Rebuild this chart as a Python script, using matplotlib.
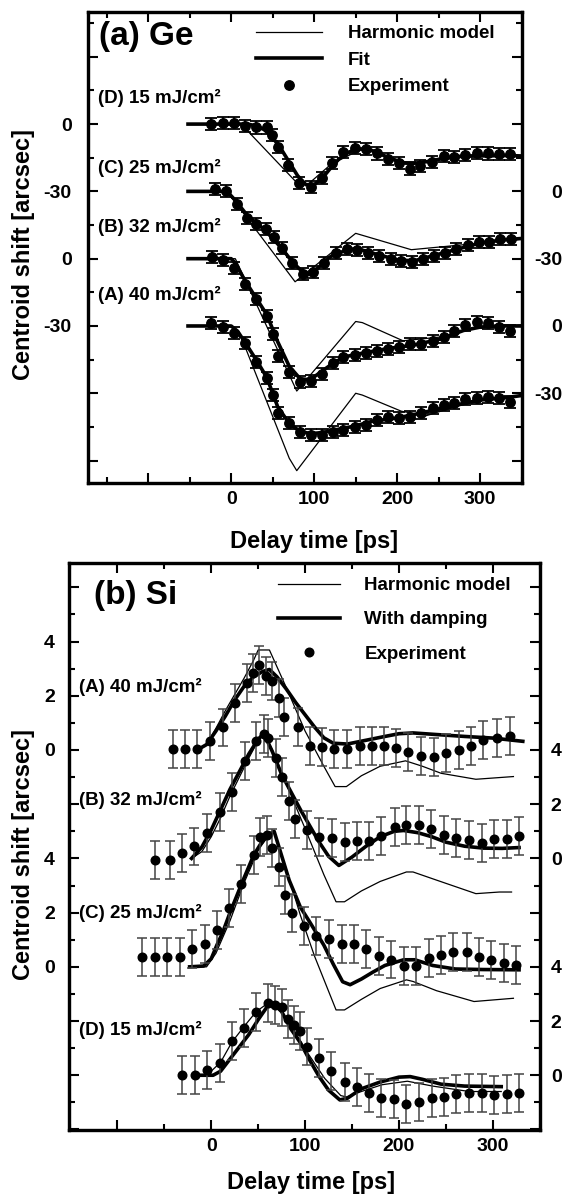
import matplotlib
matplotlib.use('Agg')
import matplotlib.pyplot as plt
import numpy as np
from matplotlib.lines import Line2D
from matplotlib.legend_handler import HandlerLine2D
from matplotlib.ticker import FixedLocator, MultipleLocator

plt.rcParams['font.family'] = ['Liberation Sans', 'DejaVu Sans']
plt.rcParams['font.weight'] = 'bold'

# ---------------- (a) Ge data : delay [ps], centroid shift [arcsec] ----------------
ge_t_D = [-24, -10, 3, 17, 30, 43, 49, 56, 68, 82, 96, 109, 122, 135, 149, 163, 176, 189, 202, 215, 228, 242, 256, 269, 282, 296, 309, 323, 336]
ge_D = [0, 0.6, 0.3, -0.9, -1.5, -1.5, -4.9, -10.1, -18.3, -26.1, -28.2, -24.2, -17.5, -12.4, -10.6, -11.3, -13.1, -15.7, -17.5, -19.8, -18.7, -16.8, -14.3, -14.6, -13.8, -12.8, -13.1, -13.4, -13.4]
ge_t_C = [-19, -6, 7, 19, 30, 42, 51, 61, 73, 86, 99, 112, 126, 139, 152, 165, 178, 192, 205, 218, 231, 244, 258, 271, 285, 298, 311, 324, 337]
ge_C = [1.2, 0.1, -5.8, -11.7, -14.7, -16.9, -20.2, -25.1, -31.8, -37.0, -36.0, -31.8, -27.3, -25.5, -26.2, -27.6, -28.8, -30.0, -31.1, -31.5, -30.3, -28.8, -27.3, -25.5, -24.1, -22.6, -22.6, -21.4, -21.4]
ge_t_B = [-23, -10, 4, 17, 30, 43, 50, 56, 70, 83, 96, 109, 123, 135, 149, 162, 176, 189, 202, 216, 229, 243, 256, 269, 282, 296, 309, 323, 336]
ge_B = [0.9, -0.6, -4.3, -11.3, -18.0, -25.4, -33.6, -43.2, -50.7, -55.1, -54.4, -51.5, -46.4, -44.0, -42.8, -42.2, -41.0, -40.3, -39.5, -38.0, -38.0, -36.6, -34.8, -32.1, -29.4, -28.4, -28.8, -30.6, -32.1]
ge_t_A = [-24, -10, 3, 17, 30, 43, 50, 56, 70, 83, 96, 109, 123, 135, 149, 162, 176, 189, 202, 216, 229, 243, 256, 269, 282, 296, 309, 323, 336]
ge_A = [1.5, -0.3, -3.3, -7.7, -15.9, -23.3, -30.8, -38.9, -43.4, -47.1, -48.6, -48.6, -47.1, -46.4, -44.9, -44.1, -41.9, -40.4, -41.2, -40.4, -38.9, -36.7, -35.2, -34.4, -32.7, -32.2, -31.5, -32.2, -33.7]
ge_err = 2.7

ge_fit_t_D = [-52, 20, 30, 40, 50, 60, 70, 80, 90, 100, 110, 120, 130, 140, 150, 160, 170, 180, 190, 200, 210, 220, 235, 250, 270, 300, 330, 350]
ge_fit_D = [0, 0, -0.8, -2.5, -6, -11, -17, -23, -27, -27, -24, -19.5, -15.5, -12.8, -11.3, -11, -11.8, -13.4, -15, -16.5, -17.4, -17.5, -16.8, -15.7, -14.5, -14, -14, -14.2]
ge_harm_t_D = [-52, 12, 80, 92, 120, 155, 165, 215, 260, 350]
ge_harm_D = [0, 0, -26.5, -27, -18, -11.5, -11.8, -17.5, -15, -14.3]

ge_fit_t_C = [-52, -5, 5, 20, 40, 60, 75, 88, 95, 105, 120, 140, 152, 170, 200, 220, 240, 270, 300, 330, 350]
ge_fit_C = [0, 0, -4, -11, -17, -25, -32, -36.5, -37, -34, -29, -26, -25.5, -27.5, -30.5, -31, -29, -26, -23, -21.5, -21]
ge_harm_t_C = [-52, -5, 77, 150, 217, 345]
ge_harm_C = [0, 0, -40.3, -18.7, -26, -21.5]

ge_fit_t_B = [-52, 0, 5, 17, 30, 43, 56, 70, 83, 95, 110, 125, 140, 160, 190, 220, 250, 280, 300, 320, 350]
ge_fit_B = [0, 0, -2, -10, -17.5, -25, -37, -48, -53.5, -54, -50, -46, -43.5, -42, -40, -38.5, -36, -32, -30.5, -30, -30]
ge_harm_t_B = [-52, 5, 79, 150, 158, 207, 250, 300, 350]
ge_harm_B = [0, 0, -59, -28, -28.5, -36.6, -35, -30.5, -29.5]

ge_fit_t_A = [-52, 0, 8, 17, 30, 43, 56, 70, 83, 96, 110, 130, 150, 170, 200, 220, 250, 280, 300, 330, 350]
ge_fit_A = [0, 0, -2.5, -7.5, -15, -23, -36, -43.5, -47, -48, -47.5, -46, -44.5, -42.5, -41, -39.5, -37, -34.5, -33, -32, -31]
ge_harm_t_A = [-52, 0, 10, 70, 79, 150, 158, 205, 235, 270, 310, 350]
ge_harm_A = [0, 0, -3, -59, -64.5, -30, -30.8, -38, -40, -36, -32.5, -31]

ge_labels = ['(D) 15 mJ/cm²', '(C) 25 mJ/cm²', '(B) 32 mJ/cm²', '(A) 40 mJ/cm²']
ge_offsets = [0, -30, -60, -90]

# ---------------- (b) Si data ----------------
si_t_A = [-41, -28, -15, -1, 12, 25, 38, 45, 51, 58, 65, 72, 78, 92, 105, 118, 131, 145, 158, 171, 184, 197, 210, 224, 237, 250, 264, 277, 290, 304, 318]
si_A = [0.03, 0.03, 0.03, 0.34, 0.83, 1.74, 2.47, 2.85, 3.15, 2.72, 2.55, 1.92, 1.23, 0.84, 0.16, 0.1, 0.05, 0.04, 0.16, 0.16, 0.16, 0.08, -0.09, -0.23, -0.25, -0.12, 0, 0.16, 0.38, 0.43, 0.53]
si_t_B = [-60, -44, -31, -18, -5, 9, 22, 36, 48, 56, 61, 69, 75, 83, 89, 102, 115, 129, 142, 155, 168, 181, 196, 208, 221, 234, 248, 261, 275, 288, 301, 315, 328]
si_B = [-0.07, -0.07, 0.2, 0.44, 0.95, 1.71, 2.45, 3.59, 4.33, 4.6, 4.45, 3.7, 3.0, 2.12, 1.46, 1.06, 0.79, 0.77, 0.6, 0.63, 0.65, 0.84, 1.16, 1.22, 1.25, 1.09, 0.85, 0.74, 0.67, 0.56, 0.7, 0.73, 0.82]
si_t_C = [-74, -60, -47, -33, -21, -7, 6, 19, 32, 46, 52, 59, 65, 72, 79, 86, 99, 112, 125, 139, 152, 165, 179, 192, 205, 218, 232, 245, 258, 272, 285, 298, 312, 325]
si_C = [0.36, 0.36, 0.36, 0.38, 0.65, 0.85, 1.37, 2.17, 3.06, 4.13, 4.78, 4.85, 4.4, 3.7, 2.66, 1.98, 1.5, 1.12, 1.03, 0.83, 0.85, 0.67, 0.4, 0.27, 0.04, 0.04, 0.32, 0.44, 0.56, 0.55, 0.36, 0.24, 0.14, 0.07]
si_t_D = [-31, -17, -4, 9, 22, 35, 48, 61, 68, 75, 82, 88, 95, 102, 115, 128, 142, 155, 168, 181, 195, 208, 221, 235, 248, 261, 275, 288, 301, 315, 328]
si_D = [0, 0.01, 0.18, 0.44, 1.25, 1.75, 2.35, 2.67, 2.58, 2.5, 2.07, 1.86, 1.62, 1.06, 0.64, 0.15, -0.24, -0.42, -0.65, -0.85, -0.89, -1.07, -0.97, -0.84, -0.79, -0.68, -0.66, -0.66, -0.73, -0.7, -0.66]
si_err = 0.7

si_fit_t_A = [-15, -5, 5, 15, 25, 35, 45, 55, 62, 70, 80, 90, 100, 110, 120, 130, 145, 165, 185, 200, 215, 240, 270, 300, 332]
si_fit_A = [0, 0.2, 0.7, 1.25, 1.85, 2.35, 2.7, 2.9, 2.97, 2.7, 2.25, 1.75, 1.3, 0.85, 0.45, 0.25, 0.22, 0.36, 0.5, 0.6, 0.63, 0.57, 0.5, 0.44, 0.32]
si_harm_t_A = [-15, -5, 5, 15, 25, 35, 45, 50, 62, 80, 100, 120, 132, 144, 160, 180, 207, 225, 245, 282, 322]
si_harm_A = [0, 0.2, 0.8, 1.45, 2.05, 2.65, 3.3, 3.69, 3.69, 2.3, 0.7, -0.6, -1.35, -1.35, -0.95, -0.6, -0.4, -0.6, -0.86, -1.08, -0.98]

si_fit_t_B = [-21, -10, 0, 10, 20, 30, 40, 50, 56, 65, 75, 85, 95, 105, 115, 125, 136, 150, 165, 180, 195, 205, 220, 235, 250, 270, 290, 310, 328]
si_fit_B = [0, 0.42, 1.05, 1.8, 2.55, 3.2, 3.85, 4.4, 4.6, 3.95, 3.1, 2.45, 1.8, 1.2, 0.6, 0.08, -0.26, 0.05, 0.45, 0.8, 1.0, 1.03, 0.95, 0.8, 0.6, 0.45, 0.38, 0.37, 0.4]
si_harm_t_B = [-21, -10, 0, 10, 20, 30, 40, 50, 57, 65, 80, 100, 120, 133, 142, 160, 180, 208, 215, 240, 282, 307, 320]
si_harm_B = [0, 0.25, 0.8, 1.5, 2.3, 3.0, 3.7, 4.35, 4.65, 4.0, 2.75, 1.1, -0.6, -1.6, -1.6, -1.2, -0.85, -0.5, -0.5, -0.8, -1.3, -1.24, -1.24]

si_fit_t_C = [-23, -8, 0, 6, 12, 20, 34, 45, 52, 60, 67, 75, 83, 95, 105, 120, 130, 140, 148, 160, 172, 185, 205, 217, 236, 260, 290, 328]
si_fit_C = [0, 0.03, 0.3, 0.8, 1.25, 2.0, 3.2, 4.1, 4.5, 4.85, 5.0, 4.1, 3.2, 2.2, 1.65, 0.8, 0.1, -0.55, -0.66, -0.45, -0.2, 0.05, 0.26, 0.26, 0.05, -0.08, -0.1, -0.11]
si_harm_t_C = [-23, -5, 5, 20, 35, 50, 62, 67, 80, 95, 110, 133, 142, 160, 180, 208, 215, 240, 280, 322]
si_harm_C = [0, 0, 0.5, 1.7, 3.1, 4.3, 4.9, 5.0, 3.6, 1.9, 0.4, -1.59, -1.59, -1.2, -0.8, -0.48, -0.54, -0.88, -1.28, -1.16]

si_fit_t_D = [-17, 2, 10, 20, 30, 40, 50, 60, 66, 75, 85, 95, 105, 115, 125, 137, 145, 160, 180, 200, 212, 225, 245, 270, 309]
si_fit_D = [0, 0, 0.15, 0.6, 1.05, 1.5, 2.05, 2.55, 2.65, 2.35, 1.7, 1.2, 0.55, -0.05, -0.55, -0.91, -0.85, -0.5, -0.25, -0.07, -0.05, -0.15, -0.33, -0.4, -0.42]
si_harm_t_D = [-17, -4, 10, 22, 35, 48, 62, 70, 83, 102, 121, 138, 144, 160, 182, 209, 236, 275, 309]
si_harm_D = [0, 0.02, 0.48, 1.22, 1.8, 2.35, 2.7, 2.6, 1.95, 0.86, -0.12, -0.75, -0.8, -0.6, -0.35, -0.22, -0.4, -0.6, -0.6]

si_labels = ['(A) 40 mJ/cm²', '(B) 32 mJ/cm²', '(C) 25 mJ/cm²', '(D) 15 mJ/cm²']
si_offsets = [0, -4, -8, -12]

# ---------------- figure ----------------
W, H = 566, 1196
fig = plt.figure(figsize=(W / 100, H / 100), dpi=100)


def fx(px):
    return px / W


def fy(py):
    return 1 - py / H


axA = fig.add_axes([fx(88.4), fy(483), fx(521.7) - fx(88.4), fy(11.7) - fy(483)])
axB = fig.add_axes([fx(68.6), fy(1130), fx(539.7) - fx(68.6), fy(562.7) - fy(1130)])

THIN, THICK = 0.9, 2.6


def draw(ax, t, y, fit_t, fit_y, harm_t, harm_y, off, err, ms, cap, ecol, elw):
    ax.plot(harm_t, np.asarray(harm_y) + off, color='black', lw=THIN, zorder=2)
    ax.plot(fit_t, np.asarray(fit_y) + off, color='black', lw=THICK, zorder=3)
    ax.errorbar(t, np.asarray(y) + off, yerr=err, fmt='o', color='black', ms=ms,
                capsize=cap, ecolor=ecol, elinewidth=elw, capthick=elw, zorder=4)


ge_sets = [(ge_t_D, ge_D, ge_fit_t_D, ge_fit_D, ge_harm_t_D, ge_harm_D),
           (ge_t_C, ge_C, ge_fit_t_C, ge_fit_C, ge_harm_t_C, ge_harm_C),
           (ge_t_B, ge_B, ge_fit_t_B, ge_fit_B, ge_harm_t_B, ge_harm_B),
           (ge_t_A, ge_A, ge_fit_t_A, ge_fit_A, ge_harm_t_A, ge_harm_A)]
for s, off in zip(ge_sets, ge_offsets):
    draw(axA, *s, off, ge_err, 6.8, 4.5, 'black', 1.3)

si_sets = [(si_t_A, si_A, si_fit_t_A, si_fit_A, si_harm_t_A, si_harm_A),
           (si_t_B, si_B, si_fit_t_B, si_fit_B, si_harm_t_B, si_harm_B),
           (si_t_C, si_C, si_fit_t_C, si_fit_C, si_harm_t_C, si_harm_C),
           (si_t_D, si_D, si_fit_t_D, si_fit_D, si_harm_t_D, si_harm_D)]
for s, off in zip(si_sets, si_offsets):
    draw(axB, *s, off, si_err, 6.2, 3.5, '#444444', 1.1)

# ---------------- axes styling ----------------
TICK_FS = 14


def style(ax, xlim, ylim, ymaj, ymin, left_lbls, right_lbls, lpad, rpad, r_ha):
    ax.set_xlim(*xlim)
    ax.set_ylim(*ylim)
    ax.xaxis.set_major_locator(FixedLocator([-100, 0, 100, 200, 300]))
    ax.set_xticklabels(['', '0', '100', '200', '300'])
    ax.xaxis.set_minor_locator(MultipleLocator(50))
    ax.yaxis.set_major_locator(FixedLocator(ymaj))
    ax.yaxis.set_minor_locator(FixedLocator(ymin))
    ax.set_yticklabels([left_lbls.get(v, '') for v in ymaj])
    for sp in ax.spines.values():
        sp.set_linewidth(2.3)
    ax.tick_params(which='both', direction='in', top=True, width=1.5, labelsize=TICK_FS)
    ax.tick_params(which='major', length=7)
    ax.tick_params(which='minor', length=4.5)
    ax.tick_params(axis='x', pad=6)
    ax.tick_params(axis='y', pad=lpad)
    tw = ax.twinx()
    tw.set_ylim(*ylim)
    tw.yaxis.set_major_locator(FixedLocator(ymaj))
    tw.yaxis.set_minor_locator(FixedLocator(ymin))
    tw.set_yticklabels([right_lbls.get(v, '') for v in ymaj])
    tw.tick_params(which='both', direction='in', width=1.5, labelsize=TICK_FS, pad=rpad)
    tw.tick_params(which='major', length=7)
    tw.tick_params(which='minor', length=4.5)
    for sp in tw.spines.values():
        sp.set_linewidth(2.3)
    for tk in tw.yaxis.get_major_ticks():
        tk.label2.set_horizontalalignment(r_ha)
    return tw


style(axA, (-172, 350), (-160, 50.1), [30, 0, -30, -60, -90, -120, -150],
      [45, 15, -15, -45, -75, -105, -135],
      {0: '0', -30: '-30', -60: '0', -90: '-30'},
      {-30: '0', -60: '-30', -90: '0', -120: '-30'}, 12, 29, 'right')
style(axB, (-152, 350), (-14.02, 6.91), [6, 4, 2, 0, -2, -4, -6, -8, -10, -12, -14],
      [5, 3, 1, -1, -3, -5, -7, -9, -11, -13],
      {4: '4', 2: '2', 0: '0', -4: '4', -6: '2', -8: '0'},
      {0: '4', -2: '2', -4: '0', -8: '4', -10: '2', -12: '0'}, 10, 8, 'left')


# ---------------- legends ----------------
class HandlerRightDot(HandlerLine2D):
    """Marker-only legend entry with the dot placed at the right end of the handle."""
    def get_xdata(self, legend, xdescent, ydescent, width, height, fontsize):
        xdata = np.array([-xdescent, -xdescent + width])
        return xdata, np.array([-xdescent + width - 0.15 * fontsize])


LEG_FS = 13.5
h_harm = Line2D([], [], color='black', lw=THIN)
h_fit = Line2D([], [], color='black', lw=THICK)
h_exp = Line2D([], [], ls='none', marker='o', ms=6.8, color='black')
axA.legend([h_harm, h_fit, h_exp], ['Harmonic model', 'Fit', 'Experiment'],
           handler_map={h_exp: HandlerRightDot()},
           loc='upper left', bbox_to_anchor=(fx(256), fy(25)), bbox_transform=fig.transFigure,
           frameon=False, borderpad=0, borderaxespad=0, handlelength=3.5, handletextpad=1.4,
           labelspacing=0.5, prop={'weight': 'bold', 'size': LEG_FS})

h_exp2 = Line2D([], [], ls='none', marker='o', ms=6.2, color='black')
axB.legend([h_harm, h_fit, h_exp2], ['Harmonic model', 'With damping', 'Experiment'],
           handler_map={h_exp2: HandlerRightDot()},
           loc='upper left', bbox_to_anchor=(fx(278), fy(577)), bbox_transform=fig.transFigure,
           frameon=False, borderpad=0, borderaxespad=0, handlelength=3.3, handletextpad=1.3,
           labelspacing=0.92, prop={'weight': 'bold', 'size': LEG_FS})

# ---------------- texts ----------------
fig.text(fx(99), fy(37), '(a) Ge', ha='left', va='center', fontsize=24, fontweight='bold')
fig.text(fx(94), fy(595), '(b) Si', ha='left', va='center', fontsize=24, fontweight='bold')

for lbl, ypx in zip(ge_labels, [98, 168, 227, 295]):
    fig.text(fx(97.5), fy(ypx), lbl, ha='left', va='center', fontsize=13.5, fontweight='bold')
for lbl, ypx in zip(si_labels, [686.7, 800, 913, 1030]):
    fig.text(fx(79.4), fy(ypx), lbl, ha='left', va='center', fontsize=13.5, fontweight='bold')

fig.text(fx(24), fy(255), 'Centroid shift [arcsec]', rotation=90, ha='center', va='center',
         fontsize=17, fontweight='bold')
fig.text(fx(23.5), fy(855), 'Centroid shift [arcsec]', rotation=90, ha='center', va='center',
         fontsize=17, fontweight='bold')
fig.text(fx(314), fy(541.7), 'Delay time [ps]', ha='center', va='center', fontsize=17, fontweight='bold')
fig.text(fx(311), fy(1183), 'Delay time [ps]', ha='center', va='center', fontsize=17, fontweight='bold')

fig.savefig('out.png', dpi=100)
